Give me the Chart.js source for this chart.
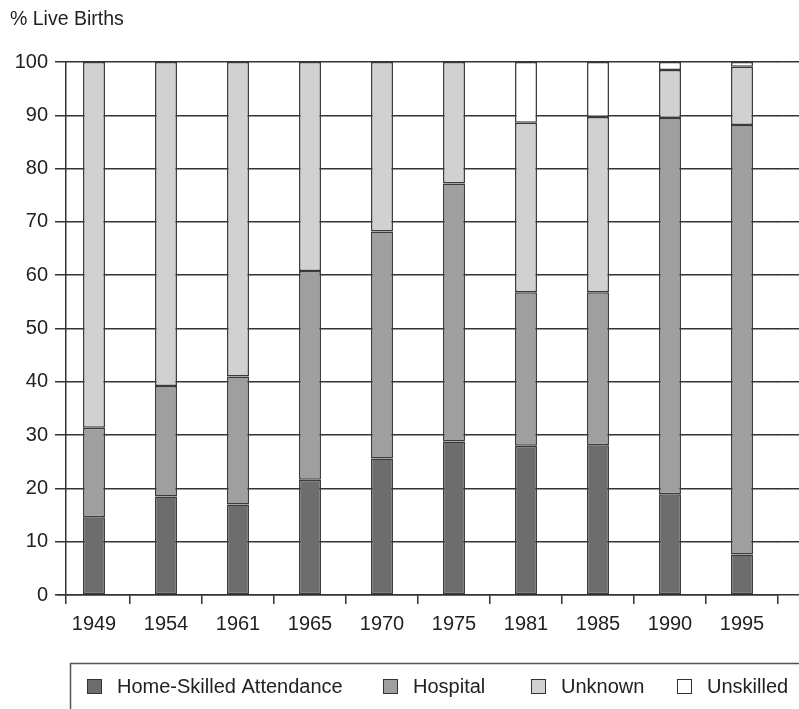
<!DOCTYPE html>
<html>
<head>
<meta charset="utf-8">
<script src="https://cdn.jsdelivr.net/npm/chart.js@4"></script>
<style>
  html, body { margin: 0; padding: 0; background: #fff; }
  #wrap { width: 799px; height: 709px; position: relative; }
</style>
</head>
<body>
<div id="wrap"><canvas id="c" width="799" height="709"></canvas></div>
<script>
const years = ['1949','1954','1961','1965','1970','1975','1981','1985','1990','1995'];
const homeSkilled = [14.6, 18.5, 17.0, 21.6, 25.6, 28.8, 28.0, 28.1, 18.9, 7.6];
const hospital    = [16.8, 20.7, 24.0, 39.2, 42.6, 48.4, 28.8, 28.7, 70.6, 80.6];
const unknown     = [68.6, 60.8, 59.0, 39.2, 31.8, 22.8, 31.8, 32.9, 9.0, 10.9];
const unskilled   = [0, 0, 0, 0, 0, 0, 11.4, 10.3, 1.5, 0.9];
const seriesNames = ['Home-Skilled Attendance', 'Hospital', 'Unknown', 'Unskilled'];
const yTitle = '% Live Births';

const FONT = "'Liberation Sans', Arial, sans-serif";
const fills = ['#6d6d6d', '#9f9f9f', '#d1d1d1', '#ffffff'];
const edge = '#3a3a3a';
const gridCol = '#333333';

const align = (p, w) => Math.round(p - w / 2) + w / 2;

const extras = {
  id: 'extras',
  afterDraw(chart) {
    const ctx = chart.ctx;
    const ca = chart.chartArea;
    const y = chart.scales.y;
    ctx.save();
    ctx.strokeStyle = gridCol;
    ctx.lineWidth = 1.5;
    y.ticks.forEach(t => {
      const py = align(y.getPixelForValue(t.value), 1.5);
      ctx.beginPath();
      ctx.moveTo(ca.right - 1, py);
      ctx.lineTo(chart.width, py);
      ctx.stroke();
    });
    ctx.beginPath();
    ctx.moveTo(align(66, 1.5), align(y.getPixelForValue(100), 1.5) - 0.75);
    ctx.lineTo(align(66, 1.5), ca.bottom + 9);
    ctx.stroke();
    ctx.fillStyle = '#222';
    ctx.font = "19.5px " + FONT;
    ctx.textAlign = 'left';
    ctx.textBaseline = 'alphabetic';
    ctx.fillText(yTitle, 10, 25);
    ctx.strokeStyle = '#555';
    ctx.lineWidth = 1.5;
    ctx.beginPath();
    ctx.moveTo(chart.width, 663.5);
    ctx.lineTo(70.5, 663.5);
    ctx.lineTo(70.5, chart.height);
    ctx.stroke();
    const boxX = [87, 383, 531, 677];
    ctx.font = "20px " + FONT;
    ctx.textBaseline = 'middle';
    chart.data.datasets.forEach((ds, i) => {
      ctx.fillStyle = ds.backgroundColor;
      ctx.fillRect(boxX[i], 679, 15, 15);
      ctx.strokeStyle = '#333';
      ctx.lineWidth = 1;
      ctx.strokeRect(boxX[i] + 0.5, 679.5, 14, 14);
      ctx.fillStyle = '#222';
      ctx.fillText(ds.label, boxX[i] + 30, 687);
    });
    ctx.restore();
  }
};

const mk = (i, data) => ({
  label: seriesNames[i],
  data: data,
  backgroundColor: fills[i],
  borderColor: edge,
  borderWidth: 1.5,
  borderSkipped: false,
  barPercentage: 0.305,
  categoryPercentage: 1.0
});

new Chart(document.getElementById('c'), {
  type: 'bar',
  data: {
    labels: years,
    datasets: [mk(0, homeSkilled), mk(1, hospital), mk(2, unknown), mk(3, unskilled)]
  },
  options: {
    responsive: false,
    animation: false,
    devicePixelRatio: 1,
    layout: { padding: { top: 62, right: 21, bottom: 46, left: 0 } },
    plugins: {
      legend: { display: false },
      title: { display: false },
      tooltip: { enabled: false }
    },
    scales: {
      x: {
        stacked: true,
        offset: true,
        afterFit: s => { s.height = 68; },
        grid: {
          offset: true,
          drawOnChartArea: false,
          drawTicks: true,
          tickLength: 9,
          lineWidth: 1.5,
          color: c => (c.index === 0 ? 'rgba(0,0,0,0)' : gridCol)
        },
        border: { display: true, color: gridCol, width: 1.5 },
        ticks: {
          color: '#222',
          font: { family: FONT, size: 20 },
          padding: 8,
          maxRotation: 0
        }
      },
      y: {
        stacked: true,
        min: 0,
        max: 100,
        afterFit: s => { s.width = 58; },
        grid: {
          color: gridCol,
          lineWidth: 1.5,
          tickLength: 3
        },
        border: { display: false },
        ticks: {
          stepSize: 10,
          color: '#222',
          font: { family: FONT, size: 20 },
          padding: 7
        }
      }
    }
  },
  plugins: [extras]
});
</script>
</body>
</html>
